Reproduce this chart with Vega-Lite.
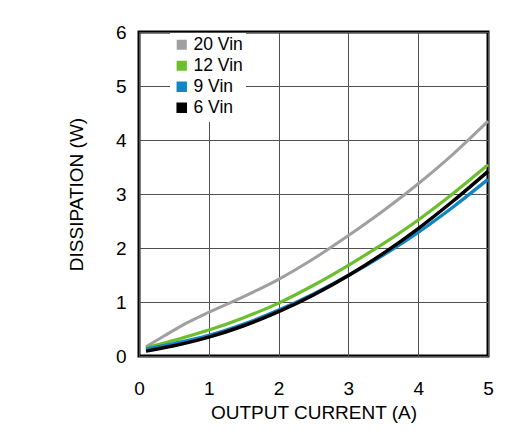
{
  "$schema": "https://vega.github.io/schema/vega-lite/v6.json",
  "width": 349,
  "height": 324,
  "autosize": "none",
  "padding": {"left": 139, "top": 32, "right": 39, "bottom": 80},
  "background": "white",
  "config": {
    "font": "Liberation Sans",
    "view": {"stroke": "black", "strokeWidth": 3},
    "axis": {
      "labelFont": "Liberation Sans",
      "titleFont": "Liberation Sans",
      "labelFontSize": 19,
      "titleFontSize": 19,
      "labelColor": "black",
      "titleColor": "black",
      "titleFontWeight": "normal",
      "ticks": false,
      "domain": false,
      "gridColor": "#505050",
      "gridWidth": 1,
      "gridOpacity": 1,
      "labelFlush": false,
      "labelOverlap": false
    }
  },
  "data": {
    "values": [
      {"current": 0.1, "watts": 0.17, "vin": "20 Vin"},
      {"current": 0.37, "watts": 0.38, "vin": "20 Vin"},
      {"current": 0.68, "watts": 0.61, "vin": "20 Vin"},
      {"current": 1.0, "watts": 0.81, "vin": "20 Vin"},
      {"current": 1.5, "watts": 1.1, "vin": "20 Vin"},
      {"current": 2.0, "watts": 1.42, "vin": "20 Vin"},
      {"current": 2.5, "watts": 1.8, "vin": "20 Vin"},
      {"current": 3.0, "watts": 2.23, "vin": "20 Vin"},
      {"current": 3.5, "watts": 2.69, "vin": "20 Vin"},
      {"current": 4.0, "watts": 3.19, "vin": "20 Vin"},
      {"current": 4.5, "watts": 3.74, "vin": "20 Vin"},
      {"current": 5.0, "watts": 4.35, "vin": "20 Vin"},
      {"current": 0.1, "watts": 0.15, "vin": "12 Vin"},
      {"current": 0.5, "watts": 0.29, "vin": "12 Vin"},
      {"current": 1.0, "watts": 0.48, "vin": "12 Vin"},
      {"current": 1.5, "watts": 0.71, "vin": "12 Vin"},
      {"current": 2.0, "watts": 0.98, "vin": "12 Vin"},
      {"current": 2.5, "watts": 1.31, "vin": "12 Vin"},
      {"current": 3.0, "watts": 1.68, "vin": "12 Vin"},
      {"current": 3.5, "watts": 2.08, "vin": "12 Vin"},
      {"current": 4.0, "watts": 2.52, "vin": "12 Vin"},
      {"current": 4.5, "watts": 3.01, "vin": "12 Vin"},
      {"current": 5.0, "watts": 3.54, "vin": "12 Vin"},
      {"current": 0.1, "watts": 0.13, "vin": "9 Vin"},
      {"current": 0.5, "watts": 0.23, "vin": "9 Vin"},
      {"current": 1.0, "watts": 0.38, "vin": "9 Vin"},
      {"current": 1.5, "watts": 0.59, "vin": "9 Vin"},
      {"current": 2.0, "watts": 0.85, "vin": "9 Vin"},
      {"current": 2.5, "watts": 1.15, "vin": "9 Vin"},
      {"current": 3.0, "watts": 1.49, "vin": "9 Vin"},
      {"current": 3.5, "watts": 1.87, "vin": "9 Vin"},
      {"current": 4.0, "watts": 2.29, "vin": "9 Vin"},
      {"current": 4.5, "watts": 2.76, "vin": "9 Vin"},
      {"current": 5.0, "watts": 3.27, "vin": "9 Vin"},
      {"current": 0.1, "watts": 0.09, "vin": "6 Vin"},
      {"current": 0.5, "watts": 0.19, "vin": "6 Vin"},
      {"current": 1.0, "watts": 0.35, "vin": "6 Vin"},
      {"current": 1.5, "watts": 0.56, "vin": "6 Vin"},
      {"current": 2.0, "watts": 0.82, "vin": "6 Vin"},
      {"current": 2.5, "watts": 1.13, "vin": "6 Vin"},
      {"current": 3.0, "watts": 1.49, "vin": "6 Vin"},
      {"current": 3.5, "watts": 1.9, "vin": "6 Vin"},
      {"current": 4.0, "watts": 2.36, "vin": "6 Vin"},
      {"current": 4.5, "watts": 2.87, "vin": "6 Vin"},
      {"current": 5.0, "watts": 3.42, "vin": "6 Vin"}
    ]
  },
  "mark": {"type": "line", "interpolate": "monotone"},
  "encoding": {
    "x": {
      "field": "current",
      "type": "quantitative",
      "title": "OUTPUT CURRENT (A)",
      "scale": {"domain": [0, 5], "nice": false},
      "axis": {"values": [0, 1, 2, 3, 4, 5], "labelPadding": 23, "titlePadding": 5}
    },
    "y": {
      "field": "watts",
      "type": "quantitative",
      "title": "DISSIPATION (W)",
      "scale": {"domain": [0, 6], "nice": false},
      "axis": {"values": [0, 1, 2, 3, 4, 5, 6], "labelPadding": 13, "titlePadding": 29}
    },
    "strokeWidth": {
      "field": "vin",
      "type": "nominal",
      "scale": {
        "domain": ["20 Vin", "12 Vin", "9 Vin", "6 Vin"],
        "range": [3, 3.5, 3.5, 4]
      },
      "legend": null
    },
    "color": {
      "field": "vin",
      "type": "nominal",
      "sort": null,
      "scale": {
        "domain": ["20 Vin", "12 Vin", "9 Vin", "6 Vin"],
        "range": ["#a0a0a0", "#6cbf2c", "#0f86c6", "#000000"]
      },
      "legend": {
        "title": null,
        "orient": "none",
        "legendX": 31,
        "legendY": 1,
        "fillColor": "white",
        "padding": 3,
        "rowPadding": 0,
        "symbolType": "square",
        "symbolSize": 50,
        "labelFontSize": 17.5,
        "labelFont": "Liberation Sans",
        "labelColor": "black",
        "labelOffset": 3,
        "encode": {
          "symbols": {
            "update": {
              "fill": {"scale": "color", "field": "value"},
              "strokeWidth": {"value": 0}
            }
          }
        }
      }
    }
  }
}
